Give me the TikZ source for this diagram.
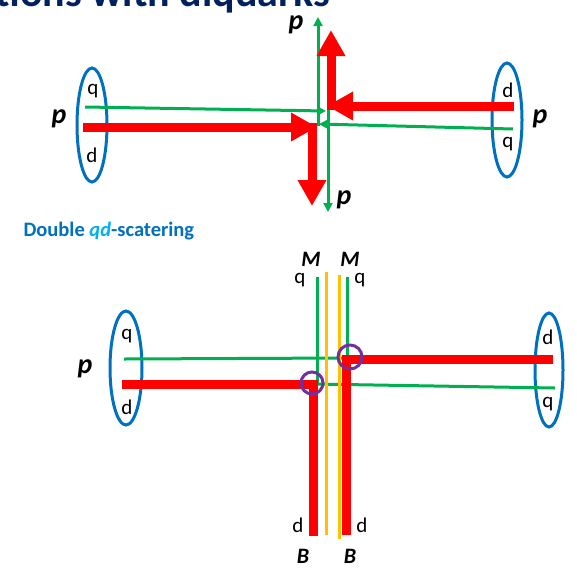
\documentclass[tikz,border=0pt]{standalone}
\usepackage{fontspec}
\setmainfont{Carlito}
\usetikzlibrary{arrows.meta}
\usetikzlibrary{positioning}
\definecolor{qgreen}{RGB}{0,176,80}
\definecolor{dred}{RGB}{255,0,0}
\definecolor{pblue}{RGB}{0,112,192}
\definecolor{lblue}{RGB}{0,176,240}
\definecolor{mgold}{RGB}{255,192,0}
\definecolor{cpurple}{RGB}{112,48,160}
\definecolor{navy}{RGB}{0,32,96}

\begin{document}
\begin{tikzpicture}[x=1pt,y=-1pt,
  dline/.style={draw=dred,line width=9pt},
  qline/.style={draw=qgreen,line width=3pt},
  dtip/.style={-{Triangle[length=26pt,width=27pt]}},
  qtip/.style={-{Triangle[length=9pt,width=9pt]}},
  bag/.style={draw=pblue,line width=3pt},
  lbl/.style={inner sep=0pt,font=\fontsize{21}{24}\selectfont},
  plbl/.style={inner sep=0pt,font=\fontsize{28}{32}\selectfont\bfseries\itshape},
  hlbl/.style={inner sep=0pt,font=\fontsize{22}{26}\selectfont\bfseries\itshape},
  vert/.style={draw=cpurple,line width=3pt}]
\useasboundingbox (0,0) rectangle (577,568);
\clip (0,0) rectangle (577,568);
\node[font=\fontsize{42}{48}\selectfont\bfseries,text=navy,anchor=base west] (title) at (-8,6) {tions with diquarks};

% single scattering
\draw[bag] (92,125) ellipse (15 and 57);
\draw[bag] (507,120) ellipse (15 and 57);
\node[lbl] (q1) at (93,91) {q};
\node[lbl] (d1) at (92,155) {d};
\node[lbl] (d2) at (508,90) {d};
\node[lbl] (q2) at (508,144) {q};
\node[plbl] (p1) at (59,119) {p};
\node[plbl] (p2) at (540,119) {p};
\node[plbl] (p3) at (296,25) {p};
\node[plbl] (p4) at (344,200) {p};

\draw[qline,qtip] (85,107) -- (326,111);
\draw[qline,qtip] (513,129) -- (319,124);
\draw[qline,qtip] (318,126) -- (318,17);
\draw[qline,qtip] (328,108) -- (328,212);

\draw[dline,dtip] (83,127) -- (317,127);
\draw[dline,dtip] (312,123) -- (312,206);
\draw[dline,dtip] (514,106) -- (327,106);
\draw[dline,dtip] (331,110) -- (331,30);

% double scattering
\node[font=\fontsize{20.5}{24}\selectfont\bfseries,text=pblue,anchor=west] (dqd) at (20,231) {Double \textcolor{lblue}{\itshape qd}-scatering};

\draw[bag] (126,368) ellipse (16 and 57);
\draw[bag] (549,370) ellipse (14 and 57);
\node[lbl] (q3) at (127,336) {q};
\node[lbl] (d3) at (127,407) {d};
\node[lbl] (d4) at (548,337) {d};
\node[lbl] (q4) at (548,404) {q};
\node[plbl] (p5) at (85,369) {p};
\node[plbl] (p6) at (585,369) {p};

\draw[qline] (124,359) -- (345,358);
\draw[qline] (314,384) -- (555,388);
\draw[qline] (317,277) -- (317,384);
\draw[qline] (347,277) -- (347,359);

\draw[dline] (122,384) -- (317,384);
\draw[dline] (313,380) -- (313,536);
\draw[dline] (342,359) -- (553,359);
\draw[dline] (346,355) -- (346,535);

\draw[draw=mgold,line width=3pt] (326,272) -- (326,535);
\draw[draw=mgold,line width=3pt] (339,275) -- (339,539);

\draw[vert] (312,383) circle (11);
\draw[vert] (350,357) circle (12);

\node[hlbl] (m1) at (311,259) {M};
\node[hlbl] (m2) at (350,259) {M};
\node[lbl] (q5) at (300,280) {q};
\node[lbl] (q6) at (360,280) {q};
\node[lbl] (d5) at (298,525) {d};
\node[lbl] (d6) at (362,525) {d};
\node[hlbl] (b1) at (303,556) {B};
\node[hlbl] (b2) at (350,556) {B};
\end{tikzpicture}
\end{document}
